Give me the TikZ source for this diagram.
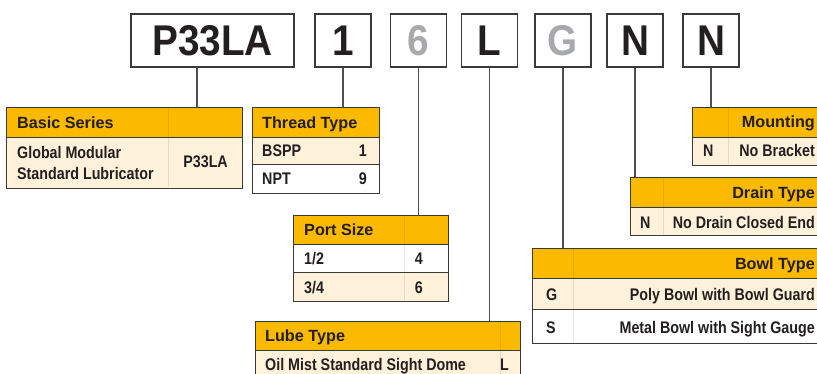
\documentclass[tikz,border=0pt]{standalone}
\usepackage{fontspec}
\setmainfont{Liberation Sans}
\newfontfamily\narrowfont{Liberation Sans}[FakeStretch=0.85]
\newfontfamily\codefamily{Liberation Sans}[FakeStretch=0.9]
\usetikzlibrary{positioning}
\definecolor{hdrOrange}{HTML}{FBB900}
\definecolor{rowCream}{HTML}{FFF1DA}
\definecolor{frameGrey}{HTML}{3A3A3A}
\definecolor{leadGrey}{HTML}{4F4F4F}
\definecolor{inkBlack}{HTML}{231F20}
\definecolor{ghostGrey}{HTML}{A7A9AC}
\tikzset{
  codebox/.style   = {draw=frameGrey, line width=1.3pt, minimum height=53pt,
                      inner sep=0pt, text=inkBlack,
                      font=\codefamily\bfseries\fontsize{43}{43}\selectfont},
  hdrbar/.style    = {draw=frameGrey, line width=1.2pt, fill=hdrOrange,
                      anchor=north west, inner sep=0pt},
  creamrow/.style  = {hdrbar, fill=rowCream},
  whiterow/.style  = {hdrbar, fill=white},
  hdrtxt/.style    = {font=\bfseries\fontsize{16.2}{19}\selectfont, text=inkBlack,
                      inner sep=0pt},
  rowtxt/.style    = {font=\narrowfont\bfseries\fontsize{16.8}{21}\selectfont,
                      text=inkBlack, inner sep=0pt},
  leader/.style    = {draw=leadGrey, line width=1.3pt},
  divider/.style   = {draw=black, draw opacity=0.09, line width=0.6pt},
}

\begin{document}
\begin{tikzpicture}[x=1pt, y=-1pt]
  \clip (0,0) rectangle (817,374);

  % model code boxes
  \node[codebox, minimum width=163pt] (cP) at (212.5,40.5) {P33LA};
  \foreach \nm/\cx/\ch/\col in {cT/343/1/inkBlack, cS/418.5/6/ghostGrey,
      cL/489.5/L/inkBlack, cB/563/G/ghostGrey, cD/635/N/inkBlack,
      cM/711/N/inkBlack}
    \node[codebox, minimum width=56pt, text=\col] (\nm) at (\cx,40.5) {\ch};

  % Basic Series
  \node[hdrbar, minimum width=236pt, minimum height=30pt] (hBasic) at (6,107) {};
  \node[creamrow, minimum width=236pt, minimum height=51pt] (rBasic) at (6,137) {};
  \draw[divider] (168,108) -- (168,187);
  \node[hdrtxt, anchor=base west] (tBasic) at (17,128.5) {Basic Series};
  \node[rowtxt, anchor=base west] (tGlobal) at (17,159) {Global Modular};
  \node[rowtxt, anchor=base west] (tStd) at (17,180) {Standard Lubricator};
  \node[rowtxt, anchor=base east] (tP33) at (228,168) {P33LA};

  % Thread Type
  \node[hdrbar, minimum width=127pt, minimum height=30pt] (hThread) at (252,107) {};
  \node[creamrow, minimum width=127pt, minimum height=27pt] (rBspp) at (252,137) {};
  \node[whiterow, minimum width=127pt, minimum height=29pt] (rNpt) at (252,164) {};
  \node[hdrtxt, anchor=base west] (tThread) at (262,128.5) {Thread Type};
  \node[rowtxt, anchor=base west] (tBspp) at (262,157) {BSPP};
  \node[rowtxt, anchor=base east] (vBspp) at (367,157) {1};
  \node[rowtxt, anchor=base west] (tNpt) at (262,184.5) {NPT};
  \node[rowtxt, anchor=base east] (vNpt) at (367,184.5) {9};

  % Port Size
  \node[hdrbar, minimum width=155pt, minimum height=29pt] (hPort) at (293,215) {};
  \node[whiterow, minimum width=155pt, minimum height=28pt] (rHalf) at (293,244) {};
  \node[creamrow, minimum width=155pt, minimum height=29pt] (rThreeq) at (293,272) {};
  \draw[divider] (404,216) -- (404,300);
  \node[hdrtxt, anchor=base west] (tPort) at (304,236) {Port Size};
  \node[rowtxt, anchor=base west] (tHalf) at (304,265) {1/2};
  \node[rowtxt, anchor=base east] (vHalf) at (423,265) {4};
  \node[rowtxt, anchor=base west] (tThreeq) at (304,293.5) {3/4};
  \node[rowtxt, anchor=base east] (vThreeq) at (423,293.5) {6};

  % Lube Type
  \node[hdrbar, minimum width=265pt, minimum height=29pt] (hLube) at (255,321) {};
  \node[creamrow, minimum width=265pt, minimum height=40pt] (rMist) at (255,350) {};
  \draw[divider] (500,322) -- (500,374);
  \node[hdrtxt, anchor=base west] (tLube) at (265,341.5) {Lube Type};
  \node[rowtxt, anchor=base west] (tMist) at (265,370) {Oil Mist Standard Sight Dome};
  \node[rowtxt, anchor=base east] (vMist) at (509,370) {L};

  % Mounting
  \node[hdrbar, minimum width=140pt, minimum height=30pt] (hMount) at (692,107) {};
  \node[creamrow, minimum width=140pt, minimum height=28pt] (rNoBr) at (692,137) {};
  \draw[divider] (728,108) -- (728,164);
  \node[hdrtxt, anchor=base east] (tMount) at (815,127.5) {Mounting};
  \node[rowtxt, anchor=base west] (vNoBr) at (703,157) {N};
  \node[rowtxt, anchor=base east] (tNoBr) at (815,157) {No Bracket};

  % Drain Type
  \node[hdrbar, minimum width=200pt, minimum height=30pt] (hDrain) at (630,177) {};
  \node[creamrow, minimum width=200pt, minimum height=28pt] (rClosed) at (630,207) {};
  \draw[divider] (663,178) -- (663,234);
  \node[hdrtxt, anchor=base east] (tDrain) at (815,198.5) {Drain Type};
  \node[rowtxt, anchor=base west] (vClosed) at (640,229) {N};
  \node[rowtxt, anchor=base east] (tClosed) at (815,229) {No Drain Closed End};

  % Bowl Type
  \node[hdrbar, minimum width=298pt, minimum height=30pt] (hBowl) at (532,248) {};
  \node[creamrow, minimum width=298pt, minimum height=31pt] (rPoly) at (532,278) {};
  \node[whiterow, minimum width=298pt, minimum height=34pt] (rMetal) at (532,309) {};
  \draw[divider] (573,249) -- (573,342);
  \node[hdrtxt, anchor=base east] (tBowl) at (815,269.5) {Bowl Type};
  \node[rowtxt, anchor=base west] (vPoly) at (546,300.5) {G};
  \node[rowtxt, anchor=base east] (tPoly) at (815,300.5) {Poly Bowl with Bowl Guard};
  \node[rowtxt, anchor=base west] (vMetal) at (546,334) {S};
  \node[rowtxt, anchor=base east] (tMetal) at (815,334) {Metal Bowl with Sight Gauge};

  % leaders from code boxes to tables
  \coordinate (jBasic) at (197,67);
  \draw[leader] (jBasic) -- (jBasic |- hBasic.north);
  \draw[leader] (cT.south) -- (cT.south |- hThread.north);
  \draw[leader] (cS.south) -- (cS.south |- hPort.north);
  \draw[leader] (cL.south) -- (cL.south |- hLube.north);
  \draw[leader] (cB.south) -- (cB.south |- hBowl.north);
  \draw[leader] (cD.south) -- (cD.south |- hDrain.north);
  \draw[leader] (cM.south) -- (cM.south |- hMount.north);
\end{tikzpicture}
\end{document}
